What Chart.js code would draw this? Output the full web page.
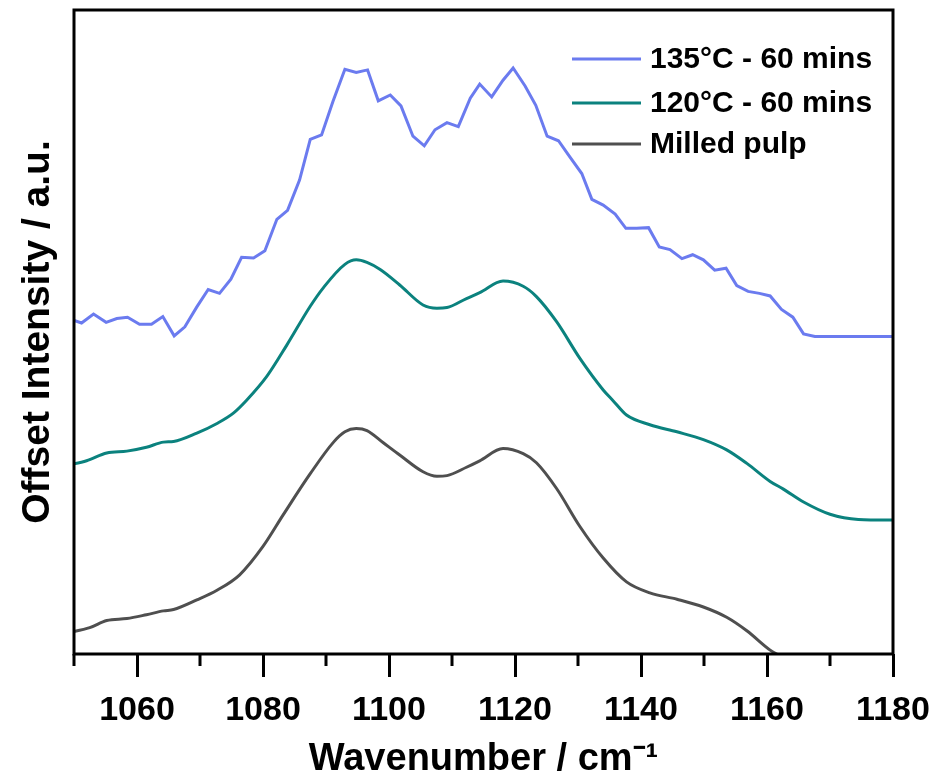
<!DOCTYPE html>
<html>
<head>
<meta charset="utf-8">
<script src="https://cdn.jsdelivr.net/npm/chart.js@4/dist/chart.umd.min.js"></script>
<style>
  html, body { margin: 0; padding: 0; background: #ffffff; }
  #wrap { width: 947px; height: 780px; position: relative; }
</style>
</head>
<body>
<div id="wrap"><canvas id="spectra"></canvas></div>
<script>
// FTIR spectra, 1050-1180 cm-1, offset intensities in arbitrary units
const wn135 = [1049.4, 1051.2, 1053.1, 1055.1, 1056.8, 1058.5, 1060.4, 1062.3, 1064.1, 1065.9,
  1067.6, 1069.5, 1071.3, 1073.1, 1074.9, 1076.6, 1078.5, 1080.3, 1082.2, 1083.9,
  1085.8, 1087.5, 1089.3, 1091.1, 1093.0, 1094.8, 1096.6, 1098.3, 1100.2, 1101.9,
  1103.8, 1105.6, 1107.3, 1109.2, 1111.0, 1112.9, 1114.4, 1116.3, 1118.1, 1119.7,
  1121.6, 1123.3, 1125.1, 1126.9, 1128.7, 1130.6, 1132.2, 1134.0, 1135.9, 1137.6,
  1139.3, 1141.2, 1142.9, 1144.6, 1146.5, 1148.2, 1149.9, 1151.7, 1153.5, 1155.2,
  1157.0, 1158.8, 1160.5, 1162.3, 1164.1, 1165.8, 1167.6, 1169.4, 1171.2, 1173.0,
  1174.8, 1176.6, 1178.4, 1180.2];
const int135 = [52.0, 51.4, 52.8, 51.5, 52.1, 52.3, 51.2, 51.2, 52.4, 49.4,
  50.8, 53.9, 56.6, 56.0, 58.2, 61.6, 61.5, 62.6, 67.5, 68.9,
  73.6, 79.9, 80.6, 85.8, 90.8, 90.3, 90.7, 85.9, 86.8, 85.1,
  80.4, 78.9, 81.4, 82.5, 81.9, 86.3, 88.5, 86.5, 89.1, 91.0,
  88.2, 85.2, 80.4, 79.7, 77.2, 74.6, 70.6, 69.7, 68.3, 66.1,
  66.1, 66.2, 63.2, 62.8, 61.4, 62.0, 61.2, 59.6, 59.9, 57.2,
  56.3, 56.0, 55.6, 53.5, 52.3, 49.7, 49.3, 49.3, 49.3, 49.3,
  49.3, 49.3, 49.3, 49.3];

const wn120 = [1049.0, 1052.0, 1055.2, 1058.4, 1061.5, 1064.2, 1065.8, 1069.5, 1072.7, 1075.3,
  1077.4, 1080.6, 1083.8, 1087.5, 1089.6, 1093.0, 1094.8, 1096.5, 1098.6, 1101.7,
  1105.4, 1107.6, 1109.2, 1112.3, 1114.4, 1118.1, 1121.3, 1123.4, 1126.6, 1130.3,
  1134.0, 1135.6, 1137.7, 1141.4, 1145.7, 1149.9, 1153.6, 1156.8, 1160.5, 1162.6,
  1165.8, 1170.0, 1174.5, 1180.5];
const int120 = [29.3, 30.0, 31.2, 31.5, 32.1, 32.9, 33.0, 34.3, 35.8, 37.4,
  39.4, 43.1, 48.0, 54.0, 56.9, 60.5, 61.2, 60.8, 59.7, 57.3,
  54.2, 53.7, 53.8, 55.2, 56.1, 57.9, 57.1, 55.5, 51.6, 45.9,
  41.0, 39.3, 37.1, 35.6, 34.5, 33.3, 31.7, 29.6, 26.8, 25.6,
  23.6, 21.7, 20.9, 20.8];

const wnMilled = [1049.0, 1052.5, 1055.2, 1058.4, 1061.5, 1064.2, 1065.8, 1069.5, 1072.7, 1076.3,
  1080.0, 1083.2, 1087.5, 1091.2, 1093.0, 1094.8, 1096.5, 1099.1, 1101.7, 1105.4,
  1107.6, 1109.2, 1112.3, 1114.4, 1118.1, 1121.3, 1123.4, 1126.6, 1130.3, 1134.0,
  1137.7, 1141.4, 1145.7, 1149.9, 1153.6, 1156.8, 1160.5, 1162.6, 1165.8, 1170.0];
const intMilled = [3.3, 4.1, 5.2, 5.5, 6.1, 6.7, 6.9, 8.4, 9.9, 12.3,
  16.7, 21.6, 28.0, 32.9, 34.5, 35.0, 34.7, 32.8, 30.9, 28.3,
  27.6, 27.7, 29.0, 30.0, 31.9, 31.1, 29.7, 25.7, 19.8, 14.9,
  11.2, 9.5, 8.5, 7.3, 5.7, 3.6, 0.6, -0.6, -2.5, -4.5];

const seriesLabels = ['135\u00B0C - 60 mins', '120\u00B0C - 60 mins', 'Milled pulp'];
const xTickValues = [1060, 1080, 1100, 1120, 1140, 1160, 1180];

const toPoints = (xs, ys) => xs.map((x, i) => ({ x: x, y: ys[i] }));

const FONT = "'Liberation Sans', Arial, Helvetica, sans-serif";

// closed frame around the plot plus the short minor ticks on the x axis
const framePlugin = {
  id: 'frame',
  afterDatasetsDraw(chart) {
    const { ctx, chartArea: a } = chart;
    const xs = chart.scales.x;
    ctx.save();
    ctx.strokeStyle = '#000';
    ctx.lineWidth = 3;
    ctx.strokeRect(a.left, a.top, a.right - a.left, a.bottom - a.top);
    ctx.beginPath();
    for (let v = xs.min; v <= xs.max; v += 10) {
      if (xTickValues.includes(v)) continue;
      const px = xs.getPixelForValue(v);
      ctx.moveTo(px, a.bottom);
      ctx.lineTo(px, a.bottom + 12);
    }
    ctx.stroke();
    ctx.restore();
  }
};

// legend inside the upper right corner of the plot
const keyPlugin = {
  id: 'seriesKey',
  afterDraw(chart) {
    const { ctx, chartArea: a } = chart;
    const rows = [49, 93, 134];
    ctx.save();
    ctx.font = 'bold 30px ' + FONT;
    ctx.textBaseline = 'middle';
    ctx.textAlign = 'left';
    chart.data.datasets.forEach((ds, i) => {
      const y = a.top + rows[i];
      ctx.strokeStyle = ds.borderColor;
      ctx.lineWidth = 3;
      ctx.beginPath();
      ctx.moveTo(a.right - 321, y);
      ctx.lineTo(a.right - 252, y);
      ctx.stroke();
      ctx.fillStyle = '#000';
      ctx.fillText(ds.label, a.right - 243, y + 1);
    });
    ctx.restore();
  }
};

new Chart(document.getElementById('spectra'), {
  type: 'line',
  data: {
    datasets: [
      { label: seriesLabels[0], data: toPoints(wn135, int135), borderColor: '#6b7bef',
        borderWidth: 3, pointRadius: 0, tension: 0 },
      { label: seriesLabels[1], data: toPoints(wn120, int120), borderColor: '#0b827e',
        borderWidth: 3, pointRadius: 0, cubicInterpolationMode: 'monotone' },
      { label: seriesLabels[2], data: toPoints(wnMilled, intMilled), borderColor: '#4f4f4f',
        borderWidth: 3, pointRadius: 0, cubicInterpolationMode: 'monotone' }
    ]
  },
  options: {
    responsive: true,
    maintainAspectRatio: false,
    animation: false,
    events: [],
    layout: { padding: { top: 10, right: 54, left: 0, bottom: 0 } },
    plugins: { legend: { display: false }, tooltip: { enabled: false } },
    scales: {
      x: {
        type: 'linear',
        min: 1050,
        max: 1180,
        afterBuildTicks(scale) {
          scale.ticks = xTickValues.map(v => ({ value: v }));
        },
        afterFit(scale) { scale.height = 126; },
        border: { display: false },
        grid: {
          display: true,
          drawOnChartArea: false,
          drawTicks: true,
          tickLength: 23,
          tickWidth: 3,
          tickColor: '#000'
        },
        ticks: {
          autoSkip: false,
          maxRotation: 0,
          padding: 13,
          color: '#000',
          callback: (v) => String(v),
          font: { family: FONT, size: 34, weight: 'bold' }
        },
        title: {
          display: true,
          text: 'Wavenumber / cm\u207B\u00B9',
          color: '#000',
          padding: { top: 0, bottom: 0 },
          font: { family: FONT, size: 38, weight: 'bold', lineHeight: 1.1 }
        }
      },
      y: {
        type: 'linear',
        min: 0,
        max: 100,
        afterFit(scale) { scale.width = 74; },
        border: { display: false },
        grid: { display: false, drawTicks: false },
        ticks: { display: false },
        title: {
          display: true,
          text: 'Offset Intensity / a.u.',
          color: '#000',
          padding: { top: 15, bottom: 0 },
          font: { family: FONT, size: 39, weight: 'bold', lineHeight: 1.2 }
        }
      }
    }
  },
  plugins: [framePlugin, keyPlugin]
});
</script>
</body>
</html>
